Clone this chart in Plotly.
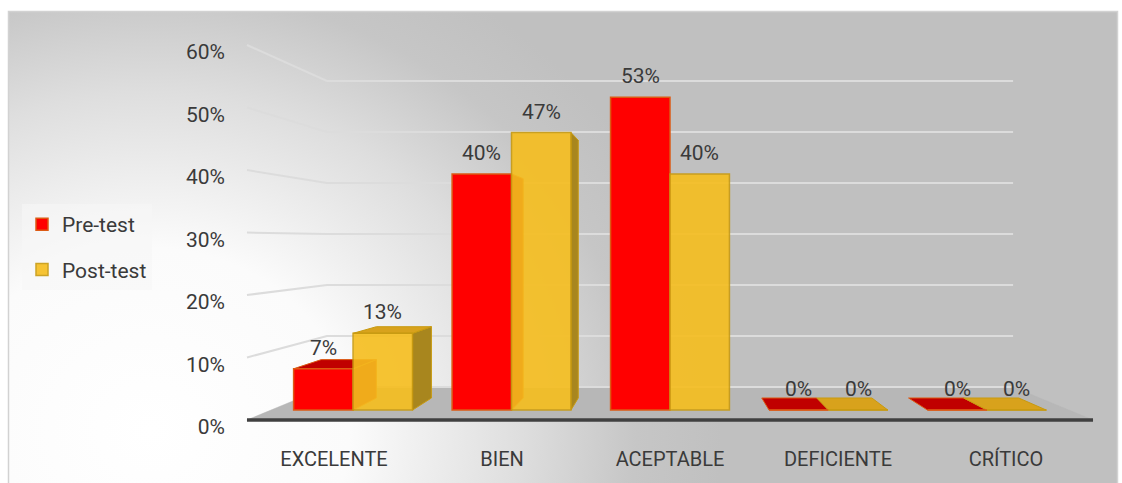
import base64
import plotly.graph_objects as go

# ---- data -------------------------------------------------------------
categories = ["EXCELENTE", "BIEN", "ACEPTABLE", "DEFICIENTE", "CRÍTICO"]
series_names = ["Pre-test", "Post-test"]
pre_test = [7, 40, 53, 0, 0]      # %
post_test = [13, 47, 40, 0, 0]    # %
y_ticks = [0, 10, 20, 30, 40, 50, 60]

# ---- canvas -----------------------------------------------------------
W, H = 1122, 483
ML, MB = 226, 38
PLOT_W, PLOT_H = W - ML, H - MB
PX_PER_CAT, CAT0_PX = 168, 334      # category axis scale
PX_PER_UNIT, ZERO_PX = 625, 427     # value axis scale (label plane)

x_range = [(ML - CAT0_PX) / PX_PER_CAT, (W - CAT0_PX) / PX_PER_CAT]
y_range = [(ZERO_PX - PLOT_H) / PX_PER_UNIT, ZERO_PX / PX_PER_UNIT]

# ---- oblique view (all in axis units) ---------------------------------
VANISH_U = 2.0
SHRINK_X = 0.189
SHRINK_Y = 0.184
FLOOR_LIFT = 7 / PX_PER_UNIT
DEPTH_RISE = 33 / PX_PER_UNIT
Z_FRONT, Z_BACK = 0.30, 0.667
BAR_W = 0.375
WALL_U = (-0.518, 4.518)
HORIZON = DEPTH_RISE / SHRINK_Y

TEXT_FONT = "Roboto, Arial, sans-serif"
TEXT_COLOR = "#3a3a3a"


def view(u, v, z):
    """Project a point (category u, value v, depth z) onto the axes."""
    x = VANISH_U + (u - VANISH_U) * (1 - SHRINK_X * z)
    y = FLOOR_LIFT + DEPTH_RISE * z + (1 - SHRINK_Y * z) * v
    return x, y


def polygon(points, fill, edge, width=1.0):
    xs = [p[0] for p in points] + [points[0][0]]
    ys = [p[1] for p in points] + [points[0][1]]
    return go.Scatter(x=xs, y=ys, mode="lines", fill="toself", fillcolor=fill,
                      line=dict(color=edge, width=width), hoverinfo="skip",
                      showlegend=False)


def polyline(points, color, width):
    return go.Scatter(x=[p[0] for p in points], y=[p[1] for p in points],
                      mode="lines", line=dict(color=color, width=width),
                      hoverinfo="skip", showlegend=False)


styles = {
    "Pre-test": dict(front="#ff0000", edge="#dc5a14", top="#c00000",
                     side="#c00000", opacity=1.0, offset=-BAR_W),
    "Post-test": dict(front="#f6be1e", edge="#c89a10", top="#d8a21c",
                      side="#a8861e", opacity=0.9, offset=0.0),
}
values = {"Pre-test": pre_test, "Post-test": post_test}

fig = go.Figure()

# floor
floor = [view(WALL_U[0], 0, 0), view(WALL_U[1], 0, 0),
         view(WALL_U[1], 0, 1), view(WALL_U[0], 0, 1)]
fig.add_trace(polygon(floor, "#b7b7b7", "#b7b7b7", 0.5))

# wall gridlines (left wall + back wall)
for t in y_ticks:
    v = t / 100
    pts = [view(WALL_U[0], v, 1), view(WALL_U[1], v, 1)]
    if t > 0:
        pts = [view(WALL_U[0], v, 0)] + pts
    fig.add_trace(polyline(pts, "#dcdcdc", 2))

# floor front edge
fig.add_trace(polyline([view(WALL_U[0], 0, 0), view(WALL_U[1], 0, 0)],
                       "#404040", 3.5))

# side and top faces
for name in series_names:
    st = styles[name]
    for i, val in enumerate(values[name]):
        v = val / 100
        u0 = i + st["offset"]
        u1 = u0 + BAR_W
        if v > 0 and u1 < VANISH_U:
            side = [view(u1, 0, Z_FRONT), view(u1, v, Z_FRONT),
                    view(u1, v, Z_BACK), view(u1, 0, Z_BACK)]
            fig.add_trace(polygon(side, st["side"], st["edge"]))
        if v > 0 and u0 > VANISH_U:
            side = [view(u0, 0, Z_FRONT), view(u0, v, Z_FRONT),
                    view(u0, v, Z_BACK), view(u0, 0, Z_BACK)]
            fig.add_trace(polygon(side, st["side"], st["edge"]))
        if v < HORIZON:
            top = [view(u0, v, Z_FRONT), view(u1, v, Z_FRONT),
                   view(u1, v, Z_BACK), view(u0, v, Z_BACK)]
            fig.add_trace(polygon(top, st["top"], st["edge"]))

# front faces as bars on an overlaid pair of axes
annotations = []
for name in series_names:
    st = styles[name]
    xs, bases, heights, widths = [], [], [], []
    for i, val in enumerate(values[name]):
        v = val / 100
        u0 = i + st["offset"]
        u1 = u0 + BAR_W
        xl, yb = view(u0, 0, Z_FRONT)
        xr, yt = view(u1, v, Z_FRONT)
        xs.append((xl + xr) / 2)
        widths.append(xr - xl)
        bases.append(yb)
        heights.append(yt - yb)
        annotations.append(dict(x=(xl + xr) / 2, y=yt, xref="x", yref="y",
                                text=f"{val}%", showarrow=False,
                                yanchor="bottom", yshift=7,
                                font=dict(size=21, color=TEXT_COLOR)))
    fig.add_trace(go.Bar(
        x=xs, y=heights, base=bases, width=widths, name=name,
        legendgroup=name, xaxis="x2", yaxis="y2", opacity=st["opacity"],
        marker=dict(color=st["front"], line=dict(color=st["edge"], width=1.5)),
        hoverinfo="skip"))

# background: soft radial light from lower left inside a thin frame
svg = (
    "<svg xmlns='http://www.w3.org/2000/svg' width='1122' height='483' "
    "viewBox='0 0 1122 483' preserveAspectRatio='none'>"
    "<defs><radialGradient id='g' gradientUnits='userSpaceOnUse' "
    "cx='150' cy='430' r='520' gradientTransform='translate(150 430) scale(1.1 1) translate(-150 -430)'>"
    "<stop offset='0' stop-color='#ffffff'/>"
    "<stop offset='0.35' stop-color='#fbfbfb'/>"
    "<stop offset='0.65' stop-color='#dedede'/>"
    "<stop offset='0.85' stop-color='#c6c6c6'/>"
    "<stop offset='1' stop-color='#c0c0c0'/>"
    "</radialGradient></defs>"
    "<rect width='1122' height='483' fill='#ffffff'/>"
    "<rect x='8.5' y='11.5' width='1109' height='480' fill='url(#g)' "
    "stroke='#d2d2d2' stroke-width='1.5'/>"
    "</svg>"
)
bg_uri = "data:image/svg+xml;base64," + base64.b64encode(svg.encode()).decode()

axis_common = dict(showgrid=False, zeroline=False, showline=False, ticks="")
fig.update_layout(
    width=W, height=H,
    margin=dict(l=ML, r=0, t=0, b=MB, pad=0),
    paper_bgcolor="#ffffff", plot_bgcolor="rgba(0,0,0,0)",
    barmode="overlay",
    font=dict(family=TEXT_FONT, size=21, color=TEXT_COLOR),
    xaxis=dict(range=x_range, tickmode="array", tickvals=list(range(len(categories))),
               ticktext=categories, tickfont=dict(size=20), **axis_common),
    yaxis=dict(range=y_range, tickmode="array", tickvals=[t / 100 for t in y_ticks],
               ticktext=[f"{t}%" for t in y_ticks], tickfont=dict(size=21),
               **axis_common),
    xaxis2=dict(range=x_range, overlaying="x", matches="x", visible=False),
    yaxis2=dict(range=y_range, overlaying="y", matches="y", visible=False),
    legend=dict(x=(22 - ML) / PLOT_W, y=1 - 204 / PLOT_H, xanchor="left", yanchor="top",
                bgcolor="rgba(246,246,246,0.6)", traceorder="grouped",
                tracegroupgap=15, font=dict(size=21, color=TEXT_COLOR)),
    annotations=annotations,
    images=[dict(source=bg_uri, xref="paper", yref="paper",
                 x=-ML / PLOT_W, y=1, sizex=W / PLOT_W, sizey=H / PLOT_H,
                 xanchor="left", yanchor="top", sizing="stretch", layer="below")],
    showlegend=True,
)

fig.write_html("out.html")
